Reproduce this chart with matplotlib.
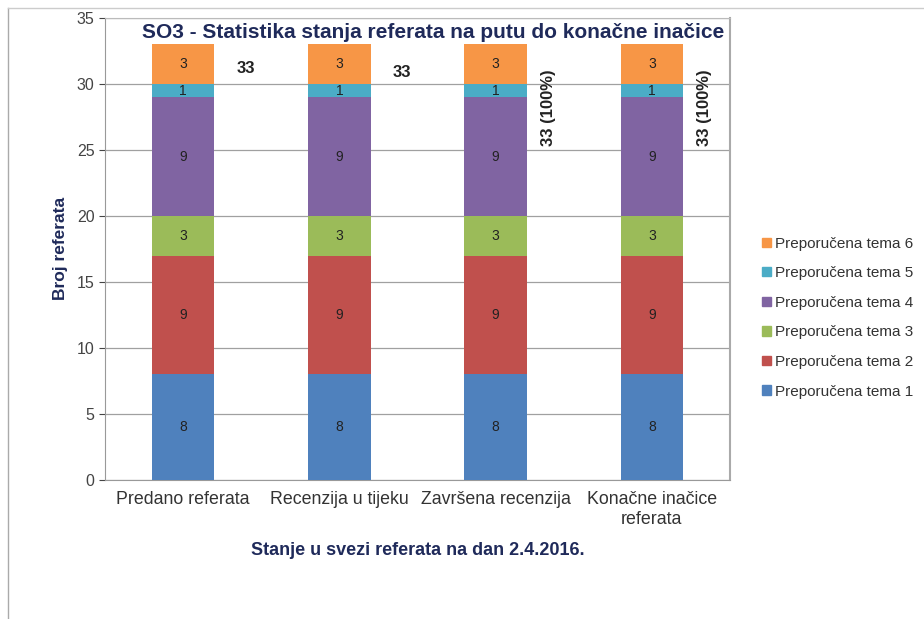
import matplotlib.pyplot as plt
from matplotlib.lines import Line2D
import numpy as np

# Categories and series values
categories = ['Predano referata', 'Recenzija u tijeku', 'Završena recenzija', 'Konačne inačice\nreferata']
series_names = ['Preporučena tema 1', 'Preporučena tema 2', 'Preporučena tema 3',
                'Preporučena tema 4', 'Preporučena tema 5', 'Preporučena tema 6']
tema1 = [8, 8, 8, 8]
tema2 = [9, 9, 9, 9]
tema3 = [3, 3, 3, 3]
tema4 = [9, 9, 9, 9]
tema5 = [1, 1, 1, 1]
tema6 = [3, 3, 3, 3]
total_labels = ['33', '33', '33 (100%)', '33 (100%)']

series = [tema1, tema2, tema3, tema4, tema5, tema6]
colors = ['#4F81BD', '#C0504D', '#9BBB59', '#8064A2', '#4BACC6', '#F79646']

plt.rcParams['font.family'] = ['Liberation Sans', 'DejaVu Sans']

fig = plt.figure(figsize=(9.24, 6.19), dpi=100)
ax = fig.add_axes([0.1136, 0.2246, 0.6764, 0.7465])

x = np.arange(len(categories))
bottom = np.zeros(len(categories))
for name, vals, col in zip(series_names, series, colors):
    ax.bar(x, vals, 0.4, bottom=bottom, color=col, label=name, zorder=3)
    for xi, v, bt in zip(x, vals, bottom):
        ax.text(xi, bt + v / 2, str(v), ha='center', va='center', fontsize=10,
                color='#222222', zorder=4)
    bottom += np.array(vals)

# totals next to the bars
totals = bottom
for i, (xi, t, lab) in enumerate(zip(x, totals, total_labels)):
    if i < 2:
        ax.text(xi + 0.4, t - 1.8 - 0.3 * i, lab, ha='center', va='center', fontsize=12,
                fontweight='bold', color='#222222')
    else:
        ax.text(xi + 0.34, t - 4.8, lab, ha='center', va='center', fontsize=12,
                fontweight='bold', color='#222222', rotation=90)

ax.set_xlim(-0.5, 3.5)
ax.set_ylim(0, 35)
ax.set_yticks(range(0, 36, 5))
ax.set_xticks(x)
ax.set_xticklabels(categories, fontsize=12.8, color='#333333')
ax.tick_params(axis='y', labelsize=11.5, colors='#444444', length=4)
ax.tick_params(axis='x', length=0, pad=8)
ax.yaxis.grid(True, color='#A0A0A0', linewidth=0.9, zorder=0)
ax.set_axisbelow(True)
for s in ['left', 'bottom']:
    ax.spines[s].set_color('#999999')
ax.spines['top'].set_color('#BBBBBB')
ax.spines['right'].set_color('#AAAAAA')
ax.spines['right'].set_linewidth(1.5)

ax.text(0.525, 0.99, 'SO3 - Statistika stanja referata na putu do konačne inačice',
        transform=ax.transAxes, ha='center', va='top', fontsize=15,
        fontweight='bold', color='#1F2A5A')
ax.set_ylabel('Broj referata', fontsize=12.5, fontweight='bold', color='#1F2A5A', labelpad=6)
ax.set_xlabel('Stanje u svezi referata na dan 2.4.2016.', fontsize=13,
              fontweight='bold', color='#1F2A5A', labelpad=10)

handles = [plt.Rectangle((0, 0), 1, 1, color=c) for c in colors][::-1]
fig.legend(handles, series_names[::-1], loc='center left', bbox_to_anchor=(0.81, 0.487),
           frameon=False, fontsize=11, handlelength=0.55, handleheight=0.55,
           handletextpad=0.3, labelspacing=1.02, labelcolor='#333333')

# outer border lines (left and top)
fig.add_artist(Line2D([0.009, 0.009], [0.0, 0.987], color='#AAAAAA', linewidth=1))
fig.add_artist(Line2D([0.009, 1.0], [0.987, 0.987], color='#CCCCCC', linewidth=1))

fig.savefig('out.png', dpi=100)
